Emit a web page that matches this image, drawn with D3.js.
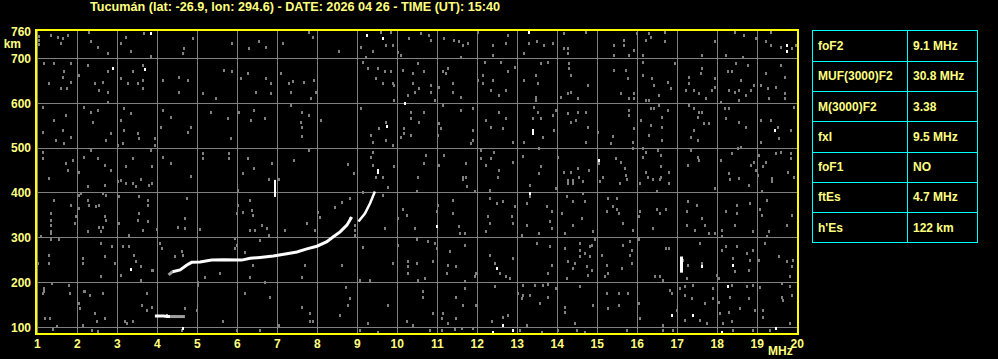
<!DOCTYPE html>
<html>
<head>
<meta charset="utf-8">
<script src="https://cdn.jsdelivr.net/npm/d3@7/dist/d3.min.js"></script>
<style>
body { margin: 0; background: #000; }
svg { display: block; }
text { font-family: "Liberation Sans", Arial, sans-serif; font-weight: bold; }
</style>
</head>
<body>
<div id="ionogram"></div>
<script>
var title = "Tucumán (lat: -26.9, lon: 294.6) - DATE: 2026 04 26 - TIME (UT): 15:40";

var freqTicks = [1,2,3,4,5,6,7,8,9,10,11,12,13,14,15,16,17,18,19,20];
var heightGrid = [100,200,300,400,500,600,700];
var heightLabels = [760,700,600,500,400,300,200,100];

var paramNames = ["foF2","MUF(3000)F2","M(3000)F2","fxI","foF1","ftEs","h'Es"];
var paramValues = ["9.1 MHz","30.8 MHz","3.38","9.5 MHz","NO","4.7 MHz","122 km"];

// F trace (ordinary)
var oFreq   = [4.38,4.57,4.74,4.86,5.07,5.36,5.65,6.11,6.32,6.57,6.90,7.24,7.49,7.74,7.99,8.24,8.40,8.57,8.74,8.86];
var oHeight = [224,228,239,245,246,250,251,250,254,256,259,264,268,275,281,291,302,313,328,346];
// upper branch
var xFreq   = [9.03,9.19,9.32,9.44];
var xHeight = [336,354,377,403];
// faint start of the F trace
var oStartFreq   = [4.28,4.38];
var oStartHeight = [217,224];

// sporadic E
var esFreq   = [3.94,4.05,4.15,4.25,4.32];
var esHeight = [125,125,125,124,124];
var esTailFreq   = [4.32,4.45,4.58,4.69];
var esTailHeight = [124,124,124,124];

var markFreq = [4.25, 6.94, 17.1];
var markLow  = [121, 391, 222];
var markHigh = [129, 429, 258];

var noiseGray = [
 [1.03,750],[1.03,741],[1.03,732],[1.34,752],[1.51,749],[1.64,746],[1.76,752],[1.59,734],[2.30,760],[2.34,738],[2.51,726],[2.78,713],[3.09,734],[3.22,749],[3.34,717],[3.67,756],[3.84,706],[4.64,713],[4.68,723],[4.88,745],[5.88,734],[6.30,723],[6.55,738],[6.72,726],[7.14,734],
 [1.17,689],[1.42,689],[1.67,671],[1.64,659],[1.84,689],[1.30,645],[1.59,634],[1.74,634],[1.84,648],[2.04,663],[2.26,686],[2.43,645],[2.55,630],[2.64,648],[2.78,626],[2.76,671],[3.09,656],[3.26,645],[3.39,671],[3.51,645],[3.63,652],[3.63,634],[3.63,686],[4.13,652],[4.55,659],[4.55,626],[4.76,652],[5.14,622],[5.47,611],[5.68,674],[5.88,671],[6.09,656],[6.26,667],[6.47,626],[6.72,656],[6.84,645],[6.84,622],[7.09,667],
 [1.13,592],[1.42,563],[1.72,574],[1.64,540],[1.84,525],[1.67,511],[1.47,518],[1.13,537],[2.17,592],[2.34,581],[2.51,585],[2.38,559],[2.76,604],[2.84,533],[2.72,518],[3.17,589],[3.34,578],[3.09,563],[3.17,540],[3.51,533],[3.55,522],[3.13,511],[3.01,507],[3.93,522],[3.95,507],[4.13,585],[4.34,570],[4.09,548],[4.84,548],[4.76,537],[5.34,581],[5.76,567],[5.84,522],[6.05,581],[6.42,585],[6.34,563],[6.68,567],
 [1.13,492],[1.13,477],[1.72,466],[1.88,474],[1.76,451],[2.05,447],[2.17,481],[2.34,496],[2.51,477],[2.68,462],[2.84,451],[3.22,459],[3.39,477],[3.84,496],[3.88,459],[4.13,481],[4.34,466],[5.14,488],[5.14,477],[5.80,488],[5.80,477],[6.26,477],[6.42,455],[6.14,444],[6.88,466],[4.84,438],
 [7.80,760],[7.89,749],[8.55,717],[9.09,726],[9.39,717],[9.22,704],[9.59,760],[9.72,730],[9.89,730],[10.01,715],[10.09,708],[9.84,760],[10.30,745],[10.59,756],[10.80,752],[10.84,741],[11.18,745],[11.43,741],[11.55,738],[11.63,730],[11.78,734],[11.59,704],[12.03,760],[12.38,730],[12.38,708],[12.76,752],[12.72,734],[13.48,738],[13.30,734],[13.18,712],[13.67,730],
 [7.40,650],[7.30,645],[7.34,626],[7.67,648],[7.93,652],[7.97,626],[7.84,611],[9.14,693],[9.26,678],[9.51,678],[9.68,671],[9.84,671],[9.47,656],[9.64,645],[9.89,645],[9.93,641],[10.13,674],[10.38,667],[10.38,645],[10.43,626],[10.51,689],[10.68,671],[10.55,634],[10.84,641],[10.84,626],[10.26,619],[9.93,607],[10.93,607],[11.05,637],[11.14,671],[11.26,678],[11.22,667],[11.38,645],[11.38,626],[11.59,615],[12.13,663],[12.01,652],[12.13,645],[12.34,630],[12.38,652],[12.55,619],[12.72,630],[12.76,671],[12.93,682],[12.59,693],[12.18,693],[13.18,652],[13.47,663],[13.51,645],[13.59,689],[13.47,615],[13.47,607],
 [7.34,596],[7.63,581],[7.80,574],[7.59,559],[7.63,548],[7.63,527],[8.09,563],[9.09,589],[9.72,559],[9.55,544],[9.34,529],[9.39,514],[9.72,518],[9.89,507],[10.09,525],[10.18,544],[10.18,533],[10.34,581],[10.34,567],[10.34,529],[10.55,559],[10.68,581],[11.05,555],[11.09,544],[11.01,529],[11.14,596],[11.59,585],[11.89,589],[11.89,540],[11.89,518],[11.84,511],[12.22,563],[12.34,548],[12.55,581],[12.63,544],[12.72,567],[12.88,514],[13.18,514],[13.42,592],[13.38,567],[13.51,581],[13.59,567],[13.63,525],
 [7.42,473],[7.80,496],[8.76,465],[8.93,444],[9.39,492],[9.34,481],[9.39,462],[9.47,436],[9.64,436],[9.93,460],[10.51,436],[10.72,485],[10.68,466],[11.18,485],[11.05,462],[11.72,466],[11.72,436],[11.63,436],[12.09,496],[12.09,477],[12.22,462],[12.42,492],[12.34,477],[12.55,451],[12.51,436],[12.88,470],[13.13,482],[13.55,500],[13.59,459],[13.55,444],
 [13.88,734],[14.17,756],[14.26,723],[14.17,723],[14.26,713],[14.72,760],[15.42,730],[15.67,741],[15.67,730],[15.93,719],[15.80,708],[15.42,708],[15.98,756],[16.30,756],[16.22,741],[16.34,749],[16.68,738],[16.68,760],[16.14,708],[17.63,708],[17.93,738],[18.22,708],[18.43,760],[18.68,752],[18.97,745],[18.63,704],[19.22,738],[19.34,730],[19.34,760],[19.59,726],[19.88,723],[19.97,730],
 [13.76,693],[14.30,689],[14.30,678],[14.34,663],[14.34,626],[14.26,622],[14.09,615],[14.76,641],[14.51,611],[15.42,674],[15.59,622],[15.72,674],[15.76,656],[15.80,611],[15.93,622],[15.93,611],[16.14,693],[16.14,663],[16.38,656],[16.42,641],[16.22,607],[16.30,607],[16.55,619],[16.76,648],[16.84,634],[16.93,689],[17.30,659],[17.30,645],[17.59,667],[17.63,678],[17.42,630],[17.55,622],[17.22,630],[17.88,630],[17.93,656],[17.93,637],[17.72,611],[18.09,604],[18.26,671],[18.38,671],[18.47,689],[18.59,652],[18.30,630],[18.43,626],[18.55,630],[18.72,619],[18.84,630],[18.92,641],[18.76,686],[18.55,607],[19.09,641],[19.22,667],[19.26,634],[19.30,611],[19.59,686],[19.68,659],[19.70,622],[19.68,611],[19.47,637],
 [13.88,574],[13.97,585],[13.92,540],[14.26,578],[14.34,559],[14.51,581],[14.72,581],[14.47,563],[14.76,548],[15.01,537],[14.72,514],[15.38,527],[15.34,511],[15.80,585],[15.80,574],[15.93,544],[15.88,514],[16.09,563],[16.34,589],[16.34,552],[16.30,529],[16.42,589],[16.55,596],[16.63,570],[16.63,548],[16.63,518],[16.76,585],[17.30,596],[17.42,589],[17.55,581],[17.51,570],[17.63,581],[17.42,540],[17.34,525],[17.51,518],[17.68,555],[17.80,555],[18.18,589],[18.30,589],[18.22,567],[18.55,559],[18.72,548],[19.09,563],[19.34,563],[19.51,548],[19.55,522],[19.84,540],[19.92,592],[19.09,514],
 [14.03,481],[14.17,447],[14.34,447],[14.51,455],[14.55,436],[14.80,451],[15.04,466],[15.14,436],[15.47,477],[15.59,470],[15.68,455],[15.72,440],[15.88,500],[16.14,500],[16.22,492],[16.14,481],[16.22,447],[16.26,436],[16.51,496],[16.59,485],[16.59,459],[16.59,436],[16.80,447],[17.34,496],[17.51,481],[17.55,473],[17.26,462],[18.09,473],[18.38,488],[18.51,500],[18.59,503],[18.30,444],[18.55,433],[18.84,462],[18.92,470],[18.97,451],[19.01,440],[19.14,459],[19.05,485],[19.22,470],[19.38,433],[19.47,488],[19.59,492],[19.84,488],[19.84,477],[19.76,447],[19.92,436],
 [11.65,430],[11.73,415],[11.94,404],[10.48,405],[12.32,407],[13.32,418],[13.98,411],[14.65,426],[14.65,400],[15.07,426],[15.57,422],[15.73,430],[16.07,422],[16.40,430],[16.57,430],[16.78,422],[16.48,404],[17.94,411],[18.32,430],[18.78,418],[19.11,404],[19.36,426],[14.27,429],[14.39,429],[14.27,422],[14.39,422],
 [10.13,363],[10.23,351],[10.44,322],[10.98,359],[11.03,374],[11.40,385],[11.40,355],[11.53,326],[11.69,311],[11.57,311],[12.32,389],[12.48,378],[12.65,381],[12.28,348],[12.32,333],[12.23,316],[12.86,348],[12.90,333],[12.94,370],[13.32,392],[13.23,378],[13.23,329],[13.11,307],[13.73,370],[13.86,359],[13.82,337],[13.86,322],[13.53,311],[14.11,355],[14.23,392],[14.40,381],[14.61,344],[14.69,381],[14.40,329],[14.19,311],[14.90,314],[15.28,389],[15.48,389],[15.23,359],[15.40,370],[15.48,363],[15.53,355],[15.65,333],[15.90,318],[16.03,348],[16.07,359],[16.48,363],[16.57,355],[16.73,363],[16.40,322],[17.27,381],[17.48,374],[17.23,359],[17.61,344],[17.23,329],[17.44,318],[17.69,329],[17.78,311],[17.94,311],[18.11,318],[18.11,303],[18.23,359],[18.48,374],[18.48,355],[18.44,329],[18.82,378],[18.90,316],[19.07,363],[19.11,351],[19.23,385],[19.28,314],[19.23,303],[19.73,329],[19.86,351],
 [10.48,296],[10.77,292],[10.94,288],[10.27,247],[10.27,236],[10.48,244],[10.27,221],[10.53,206],[10.69,210],[10.90,247],[10.98,277],[11.32,270],[11.28,240],[11.48,236],[11.24,221],[11.69,284],[11.69,203],[11.94,214],[11.98,221],[12.32,262],[12.44,244],[12.57,221],[12.73,214],[12.82,210],[12.90,255],[13.48,288],[13.82,281],[13.86,240],[13.78,221],[14.19,277],[14.23,210],[14.27,247],[14.44,244],[14.40,232],[14.57,259],[14.57,288],[14.57,273],[14.69,266],[14.82,281],[14.86,284],[14.82,259],[14.73,236],[14.86,229],[14.77,217],[14.94,296],[15.11,262],[15.23,240],[15.28,221],[15.19,214],[15.65,284],[15.61,232],[15.82,292],[15.86,273],[15.82,262],[15.86,244],[16.03,296],[16.44,214],[16.57,214],[16.65,206],[16.73,277],[16.78,277],[17.15,251],[17.23,210],[17.27,240],[17.57,288],[17.61,244],[17.98,217],[18.03,210],[18.11,273],[18.23,281],[18.40,255],[18.44,225],[18.48,281],[18.73,266],[18.82,251],[18.78,229],[18.90,273],[19.03,251],[19.19,288],[19.53,259],[19.73,247],[19.86,236],[19.82,214],[19.90,251],
 [11.69,188],[12.44,192],[13.15,195],[13.44,195],[13.65,195],[13.78,197],[13.98,188],[14.57,192],[16.82,184],[17.07,188],[17.19,192],[17.40,195],[17.90,188],[18.36,195],[18.73,192],[18.90,195],[19.07,189],[19.61,199],[19.82,192],
 [1.30,433],[2.26,415],[2.68,418],[3.01,426],[3.09,429],[3.22,422],[3.39,422],[3.47,415],[3.59,430],[3.80,418],[2.05,396],[2.09,400],[2.64,400],[2.72,396],[3.05,392],[3.55,392],[3.76,385],[1.42,385],[1.84,374],[2.26,385],[2.30,374],[2.47,370],[2.55,374],[1.34,355],[1.34,340],[1.34,329],[1.34,314],[1.34,311],[1.09,303],[1.97,348],[1.93,333],[2.05,366],[2.72,340],[2.68,348],[2.55,323],[2.64,323],[2.59,314],[2.26,314],[3.05,333],[3.55,355],[3.51,340],[3.76,374],[3.76,337],[3.63,318],[3.30,307],[1.55,296],[1.34,296],[2.59,288],[2.88,281],[3.13,281],[3.30,281],[3.42,262],[3.47,247],[3.59,236],[3.88,229],[3.09,217],[3.59,206],[1.30,262],[1.30,244],[2.13,255],[2.13,244],[2.68,259],[2.93,244],[2.59,214],[1.01,244],[1.17,188],[1.38,199],[1.80,195],[2.17,180],[1.17,180],
 [3.86,421],[4.73,388],[6.02,407],[6.32,384],[6.15,358],[6.36,362],[6.40,351],[5.98,355],[6.02,373],[4.69,343],[4.52,325],[4.69,321],[5.07,319],[4.00,319],[4.07,288],[4.11,276],[4.44,259],[4.61,271],[4.65,261],[3.90,228],[5.03,202],[5.03,195],[5.19,213],[5.57,221],[5.94,299],[5.98,284],[5.94,276],[6.19,269],[6.32,317],[6.44,317],[6.61,328],[6.73,321],[6.78,306],[6.57,295],[6.40,239],[6.32,213],[6.69,202],[7.19,317],[7.61,213],[7.69,239],[7.73,332],[7.94,317],[8.03,358],[8.07,347],[8.44,369],[8.61,380],[8.82,388],[8.82,343],[8.94,328],[8.94,317],[8.94,306],[9.15,280],[8.61,239],[8.73,191],[9.07,206],[9.32,206],[9.90,243],[10.02,284],[10.02,343],[9.69,321],[9.65,395],[9.78,414],[9.15,403],[6.80,430],[7.05,430],
 [1.15,176],[1.82,177],[2.19,180],[2.32,172],[2.65,176],[2.03,154],[2.07,142],[1.19,120],[1.32,120],[1.49,103],[1.40,96],[2.15,105],[2.44,131],[2.48,113],[2.69,120],[2.36,94],[2.53,92],[3.19,113],[3.23,109],[3.40,113],[3.61,150],[3.74,176],[3.74,139],[3.86,146],[4.69,142],[4.61,94],[4.98,139],[5.65,113],[5.98,94],[6.19,177],[6.57,94],[6.82,168],[7.03,105],[7.61,146],[7.82,131],[7.82,113],[7.90,113],[8.57,128],[8.78,150],[8.82,165],[9.27,109],[9.07,94],[9.52,90],[9.78,150],[10.23,113],[10.40,105],[10.65,180],[10.65,168],[10.90,131],[11.11,120],[11.15,131],[11.27,109],[11.48,168],[11.65,150],[11.48,120],[11.61,98],[11.90,98],[11.98,150],[12.36,113],[10.82,94],[11.11,94],[11.44,96],
 [12.65,124],[12.78,128],[13.03,176],[13.11,165],[13.15,172],[13.32,172],[13.23,105],[13.07,94],[13.57,154],[13.78,168],[13.61,90],[14.03,94],[14.19,146],[14.19,135],[14.44,109],[14.48,94],[14.69,90],[14.90,150],[15.23,176],[15.28,142],[15.53,176],[15.53,150],[15.78,176],[15.73,94],[16.03,154],[16.07,120],[16.65,105],[16.65,94],[16.86,176],[16.98,139],[16.90,94],[17.19,172],[17.36,165],[17.19,116],[17.57,116],[17.69,154],[17.73,109],[17.90,165],[18.03,157],[18.07,131],[18.15,109],[18.32,168],[18.28,135],[18.36,113],[18.40,94],[18.57,142],[18.78,165],[18.94,139],[19.15,139],[19.15,124],[19.61,168],[19.65,161],[19.82,109],[19.86,172],[19.32,94],[18.90,94]
];

var noiseWhite = [
 [3.84,758],[2.89,678],[3.68,676],[9.24,752],[9.64,745],[10.19,600],[13.29,760],[9.74,549],[13.38,540],[13.38,533],[9.51,451],[9.53,447],
 [19.74,730],[19.74,717],[19.44,540],[15.04,473],[10.98,326],[12.48,232],[17.61,236],[18.40,240],[18.27,192],[13.32,400],[3.34,231],
 [4.65,99],[12.40,90],[12.65,105],[12.88,94],[16.86,128],[17.40,128],[18.13,90],[19.48,98]
];

var w = 998, h = 359;
var textColor = "#ffff80";

var x = d3.scaleLinear().domain([1, 20]).range([37.3, 797.3]);
var y = d3.scaleLinear().domain([86.2, 764.7]).range([333.5, 29.5]);

var svg = d3.select("#ionogram")
    .append("svg")
    .attr("width", w)
    .attr("height", h);

svg.append("rect").attr("width", w).attr("height", h).attr("fill", "#000");

svg.append("text")
    .attr("x", 90)
    .attr("y", 11)
    .attr("textLength", 410)
    .attr("lengthAdjust", "spacingAndGlyphs")
    .attr("font-size", "12px")
    .attr("fill", textColor)
    .text(title);

// grid
var grid = svg.append("g")
    .attr("stroke", "#808080")
    .attr("stroke-width", 1)
    .attr("shape-rendering", "crispEdges");
grid.selectAll("line.v").data(freqTicks).enter().append("line")
    .attr("class", "v")
    .attr("x1", function(d){ return Math.floor(x(d)) + 0.5; })
    .attr("x2", function(d){ return Math.floor(x(d)) + 0.5; })
    .attr("y1", y.range()[0])
    .attr("y2", y.range()[1]);
grid.selectAll("line.h").data(heightGrid).enter().append("line")
    .attr("class", "h")
    .attr("x1", x.range()[0] - 2)
    .attr("x2", x.range()[1])
    .attr("y1", function(d){ return Math.floor(y(d)) + 0.5; })
    .attr("y2", function(d){ return Math.floor(y(d)) + 0.5; });

// noise
svg.append("g").selectAll("rect").data(noiseGray).enter().append("rect")
    .attr("x", function(d){ return Math.round(x(d[0])) - 1; })
    .attr("y", function(d){ return Math.round(y(d[1])) - 1; })
    .attr("width", 2)
    .attr("height", 3)
    .attr("fill", "#808080");
svg.append("g").selectAll("rect").data(noiseWhite).enter().append("rect")
    .attr("x", function(d){ return Math.round(x(d[0])) - 1; })
    .attr("y", function(d){ return Math.round(y(d[1])) - 1; })
    .attr("width", 2)
    .attr("height", 3)
    .attr("fill", "#ffffff");

// traces
var line = d3.line()
    .x(function(d){ return x(d[0]); })
    .y(function(d){ return y(d[1]); });
function pairs(fs, hs){ return fs.map(function(f, i){ return [f, hs[i]]; }); }

var traces = [
    {pts: pairs(oStartFreq, oStartHeight), color: "#a0a0a0", width: 3},
    {pts: pairs(esTailFreq, esTailHeight), color: "#a0a0a0", width: 3},
    {pts: pairs(esFreq, esHeight), color: "#ffffff", width: 3},
    {pts: pairs(oFreq, oHeight), color: "#ffffff", width: 3},
    {pts: pairs(xFreq, xHeight), color: "#ffffff", width: 2.5}
];
svg.append("g").selectAll("path").data(traces).enter().append("path")
    .attr("d", function(d){ return line(d.pts); })
    .attr("fill", "none")
    .attr("stroke", function(d){ return d.color; })
    .attr("stroke-width", function(d){ return d.width; });

svg.append("g").selectAll("rect").data(markFreq).enter().append("rect")
    .attr("x", function(d){ return Math.round(x(d)) - 1; })
    .attr("y", function(d, i){ return y(markHigh[i]); })
    .attr("width", function(d, i){ return i == 2 ? 3 : 2; })
    .attr("height", function(d, i){ return y(markLow[i]) - y(markHigh[i]); })
    .attr("fill", "#ffffff");

// frame
svg.append("rect")
    .attr("x", 36).attr("y", 30)
    .attr("width", 762).attr("height", 304)
    .attr("fill", "none")
    .attr("stroke", "#ffff00")
    .attr("stroke-width", 2);

// axis labels
svg.selectAll("text.ylab").data(heightLabels).enter().append("text")
    .attr("class", "ylab")
    .attr("x", 31)
    .attr("y", function(d){ return y(d); })
    .attr("dy", "0.36em")
    .attr("text-anchor", "end")
    .attr("font-size", "12px")
    .attr("fill", textColor)
    .text(function(d){ return d; });
svg.append("text")
    .attr("x", 21).attr("y", 48)
    .attr("text-anchor", "end")
    .attr("font-size", "12px")
    .attr("fill", textColor)
    .text("km");

svg.selectAll("text.xlab").data(freqTicks).enter().append("text")
    .attr("class", "xlab")
    .attr("x", function(d){ return x(d); })
    .attr("y", 348)
    .attr("text-anchor", "middle")
    .attr("font-size", "12px")
    .attr("fill", textColor)
    .text(function(d){ return d; });
svg.append("text")
    .attr("x", 768).attr("y", 355)
    .attr("font-size", "12px")
    .attr("fill", textColor)
    .text("MHz");

// parameter table
var tx0 = 812.5, tx1 = 977.5, tcol = 907.5;
var rows = d3.scaleBand().domain(paramNames).range([30.5, 242.5]);
var table = svg.append("g");
table.append("rect")
    .attr("x", tx0).attr("y", rows.range()[0])
    .attr("width", tx1 - tx0).attr("height", rows.range()[1] - rows.range()[0])
    .attr("fill", "none")
    .attr("stroke", "#00ffff");
table.selectAll("line.row").data(paramNames.slice(1)).enter().append("line")
    .attr("class", "row")
    .attr("x1", tx0).attr("x2", tx1)
    .attr("y1", function(d){ return Math.round(rows(d)) + 0.5; })
    .attr("y2", function(d){ return Math.round(rows(d)) + 0.5; })
    .attr("stroke", "#00ffff");
table.append("line")
    .attr("x1", tcol).attr("x2", tcol)
    .attr("y1", rows.range()[0]).attr("y2", rows.range()[1])
    .attr("stroke", "#00ffff");
table.selectAll("text.name").data(paramNames).enter().append("text")
    .attr("class", "name")
    .attr("x", 818)
    .attr("y", function(d){ return rows(d) + rows.bandwidth() / 2; })
    .attr("dy", "0.36em")
    .attr("font-size", "12px")
    .attr("fill", textColor)
    .text(function(d){ return d; });
table.selectAll("text.val").data(paramValues).enter().append("text")
    .attr("class", "val")
    .attr("x", 913)
    .attr("y", function(d, i){ return rows(paramNames[i]) + rows.bandwidth() / 2; })
    .attr("dy", "0.36em")
    .attr("font-size", "12px")
    .attr("fill", textColor)
    .text(function(d){ return d; });
</script>
</body>
</html>
